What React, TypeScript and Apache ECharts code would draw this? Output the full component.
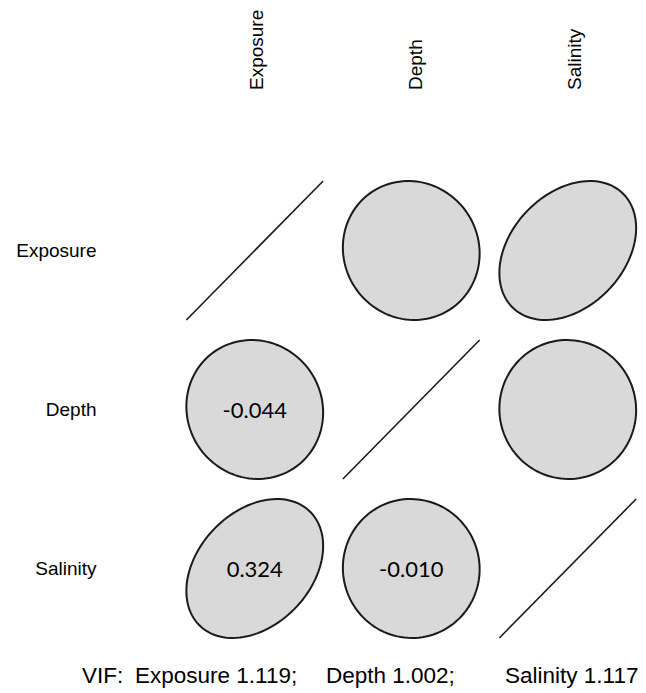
import React, { useEffect, useRef } from "react";
import * as echarts from "echarts";

// Variables and their pairwise correlations
const variables = ["Exposure", "Depth", "Salinity"];
const exposureCorr = [1, -0.044, 0.324];
const depthCorr = [-0.044, 1, -0.01];
const salinityCorr = [0.324, -0.01, 1];
const corrRows = [exposureCorr, depthCorr, salinityCorr];
// Variance inflation factors
const vifValues = [1.119, 1.002, 1.117];

const LABEL_FONT = "'Liberation Sans', Arial, sans-serif";
const VALUE_FONT = "Lato, 'Open Sans', sans-serif";

const GRID_LEFT = 176.5;
const GRID_TOP = 171;
const CELL = 159;

export default function App() {
  const ref = useRef<HTMLDivElement>(null);

  useEffect(() => {
    if (!ref.current) return;
    const chart = echarts.init(ref.current, null, { renderer: "svg" });

    const cells: number[][] = [];
    corrRows.forEach((row, i) => {
      row.forEach((r, j) => {
        cells.push([j, i, r]);
      });
    });

    // column headers, reading bottom to top
    const headerGraphics = variables.map((v, j) => ({
      type: "text",
      x: GRID_LEFT + (j + 0.5) * CELL,
      y: 90,
      rotation: Math.PI / 2,
      style: {
        text: v,
        align: "left",
        verticalAlign: "middle",
        fontSize: 19,
        fontFamily: LABEL_FONT,
        fill: "#000",
      },
    }));

    // VIF footer
    const vifY = 675;
    const itemX = [135, 326, 505];
    const footStyle = { fontSize: 22.5, fontFamily: LABEL_FONT, fill: "#000", verticalAlign: "middle" };
    const vifGraphics: any[] = [
      { type: "text", x: 82, y: vifY, style: { ...footStyle, text: "VIF:" } },
      ...variables.map((v, k) => ({
        type: "text",
        x: itemX[k],
        y: vifY,
        style: {
          ...footStyle,
          text: `${v} ${vifValues[k].toFixed(3)}${k < variables.length - 1 ? ";" : ""}`,
        },
      })),
    ];

    chart.setOption({
      animation: false,
      grid: { left: GRID_LEFT, top: GRID_TOP, width: CELL * 3, height: CELL * 3 },
      xAxis: {
        type: "category",
        data: variables,
        position: "top",
        axisLine: { show: false },
        axisTick: { show: false },
        splitLine: { show: false },
        axisLabel: { show: false },
      },
      yAxis: {
        type: "category",
        data: variables,
        inverse: true,
        axisLine: { show: false },
        axisTick: { show: false },
        splitLine: { show: false },
        axisLabel: {
          margin: 80,
          fontSize: 19,
          fontFamily: LABEL_FONT,
          color: "#000",
        },
      },
      graphic: [...headerGraphics, ...vifGraphics],
      series: [
        {
          type: "custom",
          data: cells,
          renderItem: (params: any, api: any) => {
            const col = api.value(0);
            const row = api.value(1);
            const r = api.value(2);
            const c = api.coord([col, row]);
            const size = api.size([1, 1]);
            const rx = size[0] * 0.437;
            const ry = size[1] * 0.437;
            const stroke = "#1a1a1a";
            if (r >= 0.9999) {
              return {
                type: "line",
                shape: { x1: c[0] - rx, y1: c[1] + ry, x2: c[0] + rx, y2: c[1] - ry },
                style: { stroke, lineWidth: 1.6 },
              };
            }
            // ellipse of a bivariate normal with correlation r
            const d = Math.acos(r);
            const pts: number[][] = [];
            const n = 120;
            for (let k = 0; k < n; k++) {
              const t = (k / n) * Math.PI * 2;
              const u = Math.cos(t + d / 2);
              const v = Math.cos(t - d / 2);
              pts.push([c[0] + rx * u, c[1] - ry * v]);
            }
            const children: any[] = [
              {
                type: "polygon",
                shape: { points: pts },
                style: { fill: "#d9d9d9", stroke, lineWidth: 2 },
              },
            ];
            if (row > col) {
              children.push({
                type: "text",
                style: {
                  text: r.toFixed(3),
                  x: c[0],
                  y: c[1],
                  align: "center",
                  verticalAlign: "middle",
                  fontSize: 22,
                  fontFamily: VALUE_FONT,
                  fill: "#000",
                },
              });
            }
            return { type: "group", children };
          },
        },
      ],
    });

    return () => chart.dispose();
  }, []);

  return <div ref={ref} style={{ width: 646, height: 693, position: "absolute", left: 0, top: 0 }} />;
}
